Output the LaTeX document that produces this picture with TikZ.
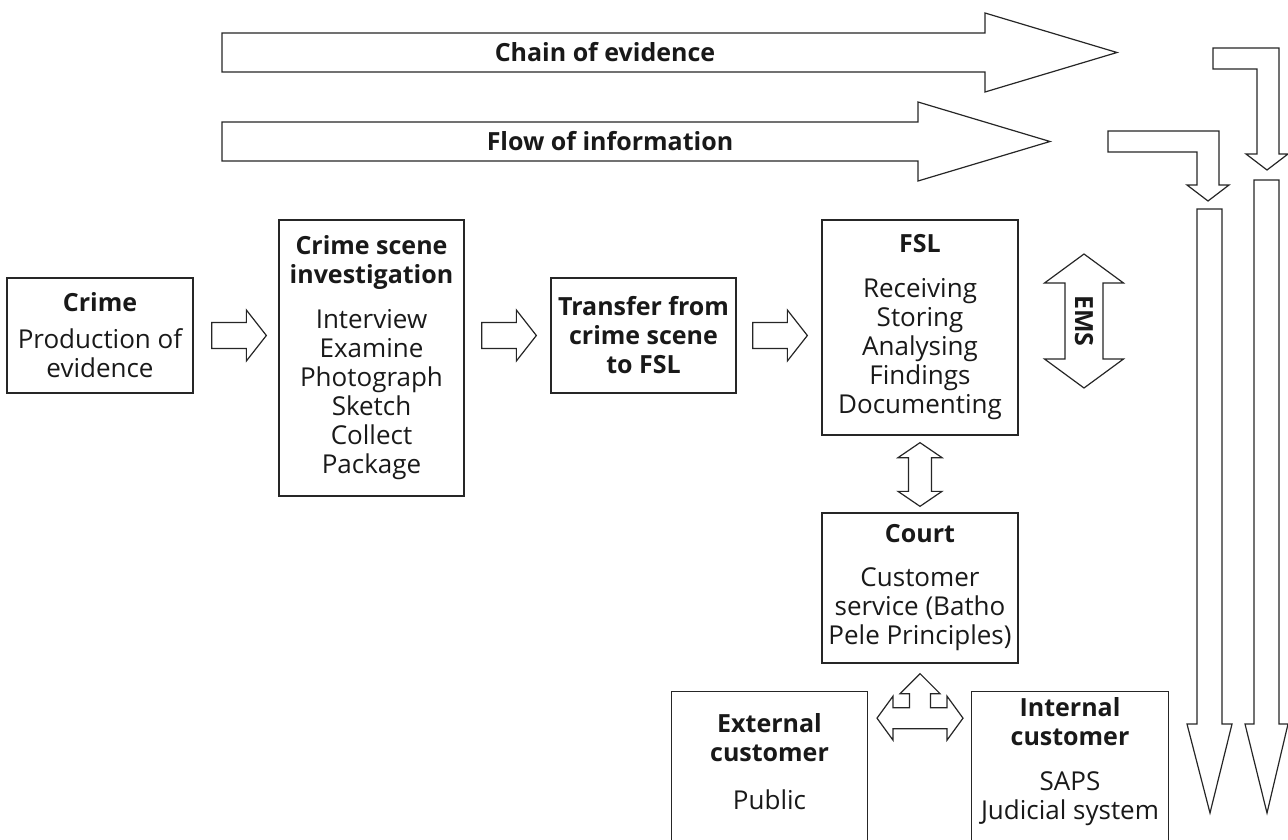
\documentclass[tikz,border=0pt]{standalone}
\usepackage{fontspec}
\setmainfont{Open Sans}
\usetikzlibrary{positioning,calc}

\newcommand{\hd}[1]{{\fontsize{25}{29}\selectfont\bfseries #1}}

\tikzset{
    box/.style={rectangle, draw=black!85, line width=1.3pt, align=center, inner sep=0pt,
        text=black!90, font=\fontsize{26}{29}\selectfont},
    blk/.style={draw=black!85, line width=1.2pt, fill=white, line join=miter},
    lbl/.style={text=black!90, font=\fontsize{25}{29}\selectfont\bfseries, inner sep=0pt}
}

% horizontal block arrow from #1 to #2 (height taken from #1)
\newcommand{\rblock}[2]{%
    \draw[blk] let \p1=(#1), \p2=(#2) in
        (\x1,\y1+13pt) -- (\x2-20pt,\y1+13pt) -- (\x2-20pt,\y1+25.5pt) -- (\x2,\y1)
        -- (\x2-20pt,\y1-25.5pt) -- (\x2-20pt,\y1-13pt) -- (\x1,\y1-13pt) -- cycle;}
% vertical two-headed block arrow from #1 (top) to #2 (bottom)
\newcommand{\vdouble}[2]{%
    \draw[blk] let \p1=(#1), \p2=(#2) in
        (\x1,\y1) -- (\x1+22pt,\y1-15pt) -- (\x1+11.5pt,\y1-15pt) -- (\x1+11.5pt,\y2+15pt)
        -- (\x1+22pt,\y2+15pt) -- (\x1,\y2) -- (\x1-22pt,\y2+15pt) -- (\x1-11.5pt,\y2+15pt)
        -- (\x1-11.5pt,\y1-15pt) -- (\x1-22pt,\y1-15pt) -- cycle;}

\begin{document}
\begin{tikzpicture}[x=1pt, y=-1pt]
    \clip (0,0) rectangle (1288,840);

    % top arrows
    \draw[blk] (222,33) -- (985,33) -- (985,13) -- (1117,52.5) -- (985,92) -- (985,72) -- (222,72) -- cycle;
    \node[lbl] (chain) at (605,52.5) {Chain of evidence};
    \draw[blk] (222,122) -- (918,122) -- (918,102) -- (1050,141.5) -- (918,181) -- (918,161) -- (222,161) -- cycle;
    \node[lbl] (flow) at (610,141.5) {Flow of information};

    % right hand side
    \draw[blk] (1213,48) -- (1279,48) -- (1279,154) -- (1288,154) -- (1267,170) -- (1246,154) -- (1257,154) -- (1257,69) -- (1213,69) -- cycle;
    \draw[blk] (1108,131) -- (1219,131) -- (1219,185) -- (1229,185) -- (1208,201) -- (1187,185) -- (1197,185) -- (1197,152) -- (1108,152) -- cycle;
    \draw[blk] (1197,209) -- (1222,209) -- (1222,724) -- (1232,724) -- (1210,813) -- (1187,724) -- (1197,724) -- cycle;
    \draw[blk] (1254,180) -- (1279,180) -- (1279,724) -- (1288,724) -- (1267,813) -- (1245,724) -- (1254,724) -- cycle;

    % boxes
    \node[box, minimum width=186pt, minimum height=115pt] (crime) at (100,335.5)
        {\hd{Crime}\\[8pt]Production of\\evidence};
    \node[box, minimum width=185pt, minimum height=276pt] (csi) at (371.5,358)
        {\hd{Crime scene}\\\hd{investigation}\\[16pt]Interview\\Examine\\Photograph\\Sketch\\Collect\\Package};
    \node[box, minimum width=185pt, minimum height=115pt] (transfer) at (643.5,335.5)
        {\hd{Transfer from}\\\hd{crime scene}\\\hd{to FSL}};
    \node[box, minimum width=196pt, minimum height=215pt] (fsl) at (920,327.5)
        {\hd{FSL}\\[16pt]Receiving\\Storing\\Analysing\\Findings\\Documenting};
    \node[box, minimum width=196pt, minimum height=150pt] (court) at (920,588)
        {\hd{Court}\\[15pt]Customer\\service (Batho\\Pele Principles)};
    \node[box, draw=none, minimum width=195pt, minimum height=140pt] (ext) at (769.5,762)
        {\hd{External}\\\hd{customer}\\[19pt]Public};
    \node[box, draw=none, minimum width=196pt, minimum height=140pt] (int) at (1070,762)
        {\hd{Internal}\\\hd{customer}\\[16pt]SAPS\\Judicial system};
    \draw[draw=black!85, line width=1.3pt] ([yshift=-30pt]ext.south west) |- (ext.north east) -- ([yshift=-30pt]ext.south east);
    \draw[draw=black!85, line width=1.3pt] ([yshift=-30pt]int.south west) |- (int.north east) -- ([yshift=-30pt]int.south east);

    % block arrows between boxes
    \rblock{[xshift=18pt]crime.east}{[xshift=-12pt]csi.west}
    \rblock{$(csi.east |- transfer.west)+(17,0)$}{[xshift=-14pt]transfer.west}
    \rblock{[xshift=16pt]transfer.east}{[xshift=-14pt]fsl.west}
    \vdouble{[yshift=-7pt]fsl.south}{[yshift=6pt]court.north}

    % EMS
    \draw[blk] (1084,254) -- (1123.5,283) -- (1103,283) -- (1103,359) -- (1123.5,359) -- (1084,388)
        -- (1044.5,359) -- (1065,359) -- (1065,283) -- (1044.5,283) -- cycle;
    \node[lbl, rotate=-90] (ems) at (1084,321) {EMS};

    % court to customers
    \coordinate (hub) at ($(court.south)+(0,54.5)$);
    \draw[blk, shift={(hub)}] (0,-44.5) -- (20,-24.5) -- (10.5,-24.5) -- (10.5,-10.5) -- (27,-10.5) -- (27,-22)
        -- (43,0) -- (27,22) -- (27,10.5) -- (-27,10.5) -- (-27,22) -- (-43,0) -- (-27,-22)
        -- (-27,-10.5) -- (-10.5,-10.5) -- (-10.5,-24.5) -- (-20,-24.5) -- cycle;
\end{tikzpicture}
\end{document}
